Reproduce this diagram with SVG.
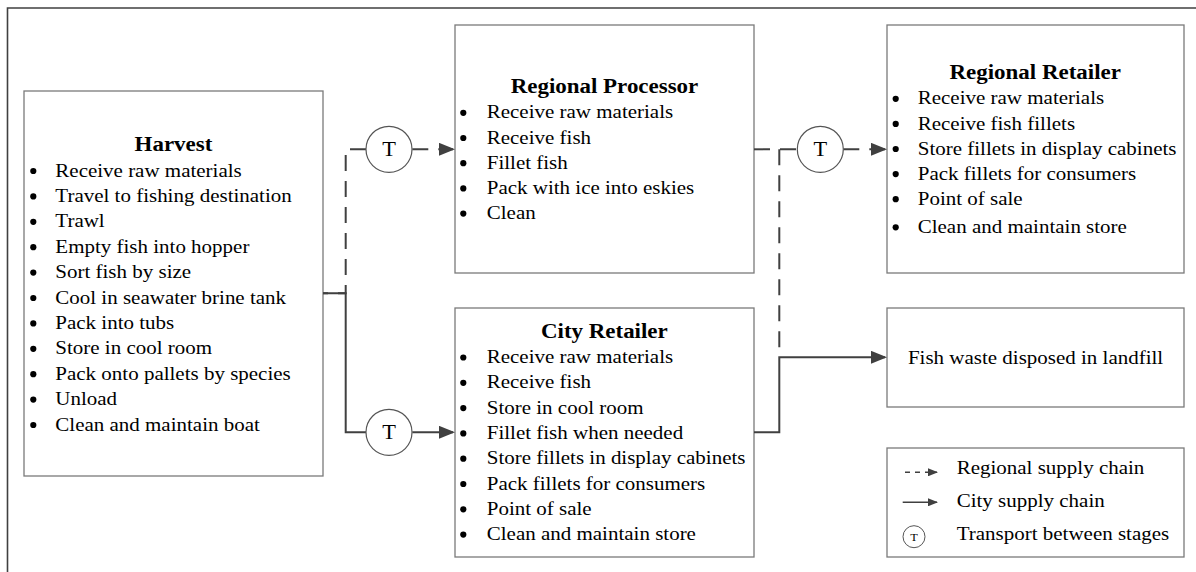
<svg xmlns="http://www.w3.org/2000/svg" xmlns:xlink="http://www.w3.org/1999/xlink" width="1196" height="572" viewBox="0 0 1196 572">
<style>
.box{fill:#fff;stroke:#7a7a7a;stroke-width:1.3}
.t{font-family:"Liberation Serif","Times New Roman",serif;font-size:18.75px;fill:#000}
.h{font-weight:bold;font-size:20.5px;text-anchor:middle}
.c{text-anchor:middle}
.ln{fill:none;stroke:#404040;stroke-width:2}
.d{stroke-dasharray:16 10}
.tc{fill:#fff;stroke:#555;stroke-width:1.2}
.frame{fill:none;stroke:#404040;stroke-width:1.6}
</style>
<defs>
<circle id="bul" r="3.1" fill="#000"/>
<marker id="ah" markerUnits="userSpaceOnUse" markerWidth="16" markerHeight="13" refX="14" refY="6.5" orient="auto">
<path d="M0,0 L16,6.5 L0,13 Z" fill="#404040"/>
</marker>
<marker id="ahs" markerUnits="userSpaceOnUse" markerWidth="10" markerHeight="8" refX="9" refY="4" orient="auto">
<path d="M0,0 L10,4 L0,8 Z" fill="#404040"/>
</marker>
</defs>
<rect width="1196" height="572" fill="#fff"/>
<path class="frame" d="M7.5,572 V8 H1196"/>

<g id="harvest">
<rect class="box" x="24" y="91" width="299" height="385"/>
<use xlink:href="#bul" x="33.3" y="171"/><use xlink:href="#bul" x="33.3" y="196.4"/><use xlink:href="#bul" x="33.3" y="221.8"/><use xlink:href="#bul" x="33.3" y="247.2"/><use xlink:href="#bul" x="33.3" y="272.6"/><use xlink:href="#bul" x="33.3" y="298"/><use xlink:href="#bul" x="33.3" y="323.4"/><use xlink:href="#bul" x="33.3" y="348.8"/><use xlink:href="#bul" x="33.3" y="374.2"/><use xlink:href="#bul" x="33.3" y="399.6"/><use xlink:href="#bul" x="33.3" y="425"/>
<g class="t" transform="scale(1.12,1)">
<text class="h" x="154.9" y="150.7">Harvest</text>
<text x="49.4" y="176.7">Receive raw materials</text>
<text x="49.4" y="202.1">Travel to fishing destination</text>
<text x="49.4" y="227.5">Trawl</text>
<text x="49.4" y="252.9">Empty fish into hopper</text>
<text x="49.4" y="278.3">Sort fish by size</text>
<text x="49.4" y="303.7">Cool in seawater brine tank</text>
<text x="49.4" y="329.1">Pack into tubs</text>
<text x="49.4" y="354.5">Store in cool room</text>
<text x="49.4" y="379.9">Pack onto pallets by species</text>
<text x="49.4" y="405.3">Unload</text>
<text x="49.4" y="430.7">Clean and maintain boat</text>
</g>
</g>

<g id="regional-processor">
<rect class="box" x="455" y="25" width="299" height="248"/>
<use xlink:href="#bul" x="463.3" y="112.8"/><use xlink:href="#bul" x="463.3" y="138"/><use xlink:href="#bul" x="463.3" y="163.2"/><use xlink:href="#bul" x="463.3" y="188.4"/><use xlink:href="#bul" x="463.3" y="213.6"/>
<g class="t" transform="scale(1.12,1)">
<text class="h" x="539.7" y="92.7">Regional Processor</text>
<text x="434.6" y="118.5">Receive raw materials</text>
<text x="434.6" y="143.7">Receive fish</text>
<text x="434.6" y="168.9">Fillet fish</text>
<text x="434.6" y="194.1">Pack with ice into eskies</text>
<text x="434.6" y="219.3">Clean</text>
</g>
</g>

<g id="regional-retailer">
<rect class="box" x="887" y="25" width="297" height="248"/>
<use xlink:href="#bul" x="895.7" y="98.8"/><use xlink:href="#bul" x="895.7" y="123.9"/><use xlink:href="#bul" x="895.7" y="149"/><use xlink:href="#bul" x="895.7" y="174.1"/><use xlink:href="#bul" x="895.7" y="199.2"/><use xlink:href="#bul" x="895.7" y="227.3"/>
<g class="t" transform="scale(1.12,1)">
<text class="h" x="924.3" y="79.3">Regional Retailer</text>
<text x="819.4" y="104.5">Receive raw materials</text>
<text x="819.4" y="129.6">Receive fish fillets</text>
<text x="819.4" y="154.7">Store fillets in display cabinets</text>
<text x="819.4" y="179.8">Pack fillets for consumers</text>
<text x="819.4" y="204.9">Point of sale</text>
<text x="819.4" y="233">Clean and maintain store</text>
</g>
</g>

<g id="city-retailer">
<rect class="box" x="455" y="308" width="299" height="249"/>
<use xlink:href="#bul" x="463.3" y="357.5"/><use xlink:href="#bul" x="463.3" y="382.8"/><use xlink:href="#bul" x="463.3" y="408.1"/><use xlink:href="#bul" x="463.3" y="433.4"/><use xlink:href="#bul" x="463.3" y="458.7"/><use xlink:href="#bul" x="463.3" y="484"/><use xlink:href="#bul" x="463.3" y="509.3"/><use xlink:href="#bul" x="463.3" y="534.6"/>
<g class="t" transform="scale(1.12,1)">
<text class="h" x="539.6" y="337.7">City Retailer</text>
<text x="434.6" y="363.2">Receive raw materials</text>
<text x="434.6" y="388.5">Receive fish</text>
<text x="434.6" y="413.8">Store in cool room</text>
<text x="434.6" y="439.1">Fillet fish when needed</text>
<text x="434.6" y="464.4">Store fillets in display cabinets</text>
<text x="434.6" y="489.7">Pack fillets for consumers</text>
<text x="434.6" y="515">Point of sale</text>
<text x="434.6" y="540.3">Clean and maintain store</text>
</g>
</g>

<g id="landfill">
<rect class="box" x="887" y="308" width="297" height="99"/>
<g class="t" transform="scale(1.12,1)">
<text class="c" x="924.6" y="364">Fish waste disposed in landfill</text>
</g>
</g>

<g id="connectors">
<path class="ln d" d="M366,149.3 H345.7 V293.3 H323"/>
<path class="ln d" d="M412.3,149.3 H453" marker-end="url(#ah)"/>
<path class="ln" d="M323,293.3 H345.7 V432.3 H366"/>
<path class="ln" d="M412.3,432.3 H453" marker-end="url(#ah)"/>
<path class="ln d" d="M754,149.3 H797.3"/>
<path class="ln d" d="M779.3,149.3 V357.3"/>
<path class="ln d" d="M843.3,149.3 H885" marker-end="url(#ah)"/>
<path class="ln" d="M754,432.3 H779.3 V357.3 H885" marker-end="url(#ah)"/>
</g>

<g id="transport-1">
<circle class="tc" cx="389" cy="149.3" r="23"/>
<g class="t" transform="scale(1.12,1)"><text class="c" x="347.3" y="156.5" style="font-size:20px">T</text></g>
</g>
<g id="transport-2">
<circle class="tc" cx="389" cy="432.3" r="23"/>
<g class="t" transform="scale(1.12,1)"><text class="c" x="347.3" y="439.5" style="font-size:20px">T</text></g>
</g>
<g id="transport-3">
<circle class="tc" cx="820.3" cy="149.3" r="23"/>
<g class="t" transform="scale(1.12,1)"><text class="c" x="732.4" y="156.5" style="font-size:20px">T</text></g>
</g>

<g id="legend">
<rect class="box" x="887" y="448" width="297" height="109"/>
<path class="ln" d="M905,472.3 H937" style="stroke-width:1.6;stroke-dasharray:5 5" marker-end="url(#ahs)"/>
<path class="ln" d="M902.7,502.3 H937" style="stroke-width:1.6" marker-end="url(#ahs)"/>
<circle class="tc" cx="914" cy="536.7" r="11" style="stroke-width:1"/>
<g class="t" transform="scale(1.12,1)">
<text class="c" x="816.1" y="540.6" style="font-size:11px">T</text>
<text x="854.2" y="474">Regional supply chain</text>
<text x="854.2" y="507.3">City supply chain</text>
<text x="854.2" y="540">Transport between stages</text>
</g>
</g>
</svg>
